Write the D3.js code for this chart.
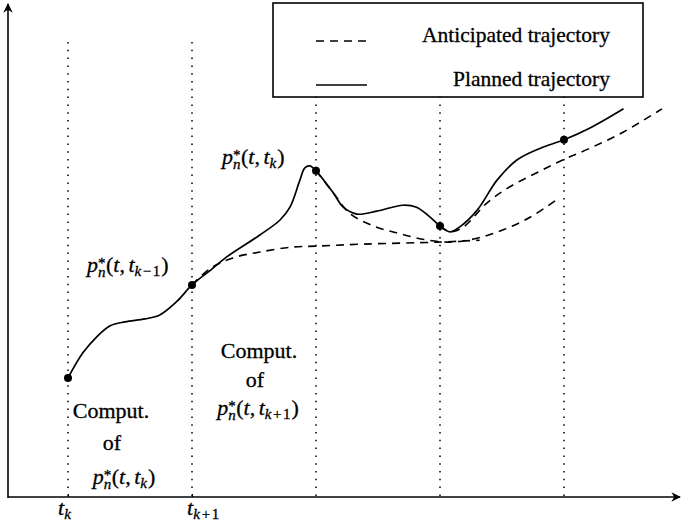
<!DOCTYPE html>
<meta charset="utf-8">
<script src="https://d3js.org/d3.v7.min.js"></script>
<style>
  body { margin: 0; background: #fff; }
</style>
<div id="chart"></div>
<script>
// sampling instants (t_k, t_k+1, ...), one dotted line each
const instants = [1, 2, 3, 4, 5];
const tickInstants = [1, 2];
const tickSubs = ["k", "k+1"];

// planned trajectory (solid), [t, value]
const planned = [
  [1.00, 24.2], [1.12, 29.3], [1.23, 32.5], [1.34, 34.8], [1.46, 35.6], [1.62, 36.2],
  [1.74, 37.0], [1.88, 39.8], [2.00, 43.1], [2.15, 46.1], [2.28, 48.8], [2.55, 53.3],
  [2.71, 56.3], [2.79, 58.9], [2.87, 64.4], [2.91, 66.9], [2.95, 67.3], [3.00, 66.3],
  [3.14, 61.8], [3.22, 58.9], [3.33, 57.5], [3.49, 58.1], [3.70, 59.3], [3.81, 58.9],
  [3.92, 56.9], [4.00, 55.1], [4.08, 53.9], [4.16, 54.9], [4.30, 58.3], [4.46, 64.4],
  [4.62, 68.5], [4.81, 70.9], [5.00, 72.6], [5.21, 75.0], [5.48, 78.9]
];

// anticipated trajectories (dashed), one per computation
const anticipated = [
  [[2.00, 43.1], [2.15, 46.5], [2.33, 48.6], [2.55, 49.8], [2.81, 50.8], [3.01, 51.0],
   [3.38, 51.4], [3.98, 51.8], [4.32, 52.2]],
  [[3.00, 66.3], [3.14, 61.8], [3.27, 57.7], [3.46, 55.1], [3.65, 53.7], [3.86, 52.4],
   [4.08, 51.8], [4.30, 52.6], [4.51, 54.3], [4.73, 56.9], [4.94, 60.4]],
  [[4.00, 55.1], [4.08, 53.9], [4.19, 54.9], [4.38, 59.8], [4.56, 63.0], [4.78, 65.9],
   [4.99, 68.5], [5.21, 70.9], [5.48, 74.2], [5.79, 78.9]]
];

// points where a new plan starts
const knots = [[1, 24.2], [2, 43.1], [3, 66.3], [4, 55.1], [5, 72.6]];

const W = 681, H = 524;
const FONT = "'Liberation Serif', 'Times New Roman', Times, serif";
const x = d3.scaleLinear().domain([1, 5]).range([68, 564]);
const y = d3.scaleLinear().domain([0, 100]).range([497, 5]);

const svg = d3.select("#chart").append("svg")
    .attr("width", W).attr("height", H)
    .attr("font-family", FONT);

svg.append("defs").append("marker")
    .attr("id", "arrow")
    .attr("viewBox", "0 0 10 10")
    .attr("refX", 9).attr("refY", 5)
    .attr("markerWidth", 6).attr("markerHeight", 6)
    .attr("orient", "auto")
  .append("path")
    .attr("d", "M0,0 L10,5 L0,10 L3,5 Z")
    .attr("fill", "#000");

// dotted vertical lines
svg.selectAll(".vl")
  .data(instants)
  .join("line")
    .attr("x1", d => x(d)).attr("x2", d => x(d))
    .attr("y1", 42).attr("y2", y(0))
    .attr("stroke", "#000")
    .attr("stroke-width", 1.5)
    .attr("stroke-dasharray", "1.5,6.3");

// axes with arrows
svg.append("line")
    .attr("x1", 8).attr("y1", y(0)).attr("x2", 680).attr("y2", y(0))
    .attr("stroke", "#000").attr("stroke-width", 1.6)
    .attr("marker-end", "url(#arrow)");
svg.append("line")
    .attr("x1", 8).attr("y1", y(0) + 1).attr("x2", 8).attr("y2", 4)
    .attr("stroke", "#000").attr("stroke-width", 1.6)
    .attr("marker-end", "url(#arrow)");

svg.append("g")
    .attr("transform", `translate(0,${y(0)})`)
    .call(d3.axisBottom(x).tickValues(tickInstants).tickSize(-3).tickFormat(""))
    .call(g => g.select(".domain").remove());

const line = d3.line()
    .x(d => x(d[0])).y(d => y(d[1]))
    .curve(d3.curveCatmullRom.alpha(0.5));

svg.selectAll(".ant")
  .data(anticipated)
  .join("path")
    .attr("d", line)
    .attr("fill", "none")
    .attr("stroke", "#000")
    .attr("stroke-width", 1.6)
    .attr("stroke-dasharray", "8,6");

svg.append("path")
    .attr("d", line(planned))
    .attr("fill", "none")
    .attr("stroke", "#000")
    .attr("stroke-width", 1.7);

svg.selectAll(".knot")
  .data(knots)
  .join("circle")
    .attr("cx", d => x(d[0])).attr("cy", d => y(d[1]))
    .attr("r", 4)
    .attr("fill", "#000");

// slightly heavier text, like the scanned original
function ink(sel) {
  return sel.attr("fill", "#000").attr("stroke", "#000").attr("stroke-width", 0.3);
}

// p*_n(t, t_sub) as real text
function mathLabel(px, py, sub, anchor) {
  const t = ink(svg.append("text"))
      .attr("x", px).attr("y", py)
      .attr("font-family", FONT)
      .attr("font-size", 22)
      .attr("text-anchor", anchor || "start");
  t.append("tspan").attr("font-style", "italic").text("p");
  t.append("tspan").attr("font-size", 15).attr("dy", -4).text("*");
  t.append("tspan").attr("font-size", 15).attr("font-style", "italic")
      .attr("dx", -7.5).attr("dy", 9).text("n");
  t.append("tspan").attr("dy", -5).attr("dx", 0.5).text("(");
  t.append("tspan").attr("font-style", "italic").text("t");
  t.append("tspan").text(",");
  t.append("tspan").attr("font-style", "italic").attr("dx", 3.5).text("t");
  t.append("tspan").attr("font-size", 15).attr("font-style", "italic").attr("dy", 4).text("k");
  if (sub !== "k") {
    t.append("tspan").attr("font-size", 15).attr("dx", 1.5).text(sub.slice(1, 2) === "-" ? "\u2212" : "+");
    t.append("tspan").attr("font-size", 15).attr("dx", 1.5).text("1");
  }
  t.append("tspan").attr("dy", -4).attr("dx", 1).text(")");
}

mathLabel(87, 272, "k-1");
mathLabel(222, 164, "k");
mathLabel(124, 484, "k", "middle");
mathLabel(258, 415, "k+1", "middle");

const plain = [
  ["Comput.", 111, 418], ["of", 112, 450],
  ["Comput.", 259, 358], ["of", 255, 387]
];
ink(svg.selectAll(".plain")
  .data(plain)
  .join("text"))
    .attr("x", d => d[1]).attr("y", d => d[2])
    .attr("text-anchor", "middle")
    .attr("font-family", FONT)
    .attr("font-size", 22)
    .text(d => d[0]);

// tick labels t_k, t_k+1
tickInstants.forEach((d, i) => {
  const t = ink(svg.append("text"))
      .attr("x", x(d) - (i === 0 ? 10 : 5)).attr("y", 515)
      .attr("font-family", FONT)
      .attr("font-size", 22);
  t.append("tspan").attr("font-style", "italic").text("t");
  t.append("tspan").attr("font-size", 15).attr("font-style", "italic").attr("dy", 4).text("k");
  if (tickSubs[i] !== "k") {
    t.append("tspan").attr("font-size", 15).attr("dx", 2).text("+");
    t.append("tspan").attr("font-size", 15).attr("dx", 1.5).text("1");
  }
});

// legend
const leg = svg.append("g");
leg.append("rect")
    .attr("x", 273).attr("y", 3).attr("width", 370).attr("height", 94)
    .attr("fill", "#fff").attr("stroke", "#000").attr("stroke-width", 1.6);
const legItems = [
  {label: "Anticipated trajectory", dash: "8,6", y: 42},
  {label: "Planned trajectory", dash: null, y: 86}
];
legItems.forEach(d => {
  leg.append("line")
      .attr("x1", 316).attr("x2", 367).attr("y1", d.y - 1).attr("y2", d.y - 1)
      .attr("stroke", "#000").attr("stroke-width", 1.6)
      .attr("stroke-dasharray", d.dash);
  ink(leg.append("text"))
      .attr("x", 610).attr("y", d.y)
      .attr("text-anchor", "end")
      .attr("font-family", FONT)
      .attr("font-size", 21.5)
      .text(d.label);
});
</script>
